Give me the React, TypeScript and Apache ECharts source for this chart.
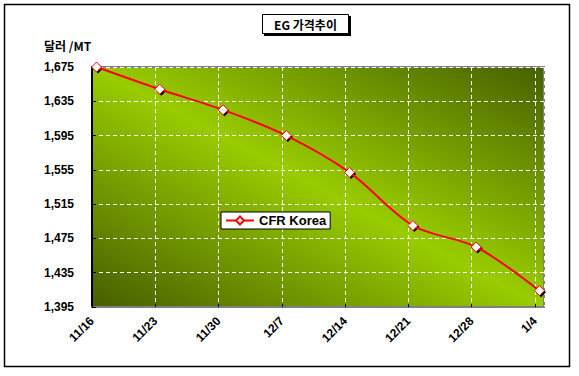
import React, { useEffect, useRef } from "react";
import * as echarts from "echarts";

const dateLabels = ["11/16", "11/23", "11/30", "12/7", "12/14", "12/21", "12/28", "1/4"];
const pointDays = [0.5, 7.5, 14.5, 21.5, 28.5, 35.5, 42.5, 49.5];
const prices = [1675, 1649, 1625, 1595, 1552, 1490, 1465, 1414];
const yMin = 1395;
const yMax = 1675;
const yStep = 40;
const seriesName = "CFR Korea";

export default function App() {
  const ref = useRef<HTMLDivElement>(null);
  useEffect(() => {
    if (!ref.current) return;
    const chart = echarts.init(ref.current, null, { renderer: "svg" });
    const data = pointDays.map((d, i) => [d, prices[i] - yMin]);
    const font = "Liberation Sans";
    chart.setOption({
      animation: false,
      backgroundColor: "#ffffff",
      grid: {
        left: 92,
        right: 35,
        top: 67,
        bottom: 69,
        show: true,
        borderColor: "#808080",
        borderWidth: 2,
        backgroundColor: new echarts.graphic.LinearGradient(0, 1, 1, 0, [
          { offset: 0, color: "#465e00" },
          { offset: 0.5, color: "#99cc00" },
          { offset: 1, color: "#466000" },
        ]),
      },
      legend: {
        data: [seriesName],
        left: 221,
        top: 212,
        backgroundColor: "#ffffff",
        borderColor: "#000000",
        borderWidth: 1,
        borderRadius: 0,
        padding: [2, 4, 2, 4],
        itemWidth: 28,
        itemHeight: 10,
        itemGap: 4,
        textStyle: { fontFamily: font, fontSize: 13, color: "#000", fontWeight: "bold" },
      },
      xAxis: {
        type: "value",
        min: 0,
        max: 50,
        interval: 7,
        axisLine: { show: true, lineStyle: { color: "#808080", width: 2 } },
        axisTick: { show: true, inside: true, length: 3, lineStyle: { color: "#000" } },
        splitLine: { show: true, lineStyle: { color: "#ffffff", type: [4, 3], width: 1 } },
        axisLabel: {
          rotate: 45,
          margin: 12,
          showMaxLabel: false,
          fontFamily: font,
          fontSize: 12,
          fontWeight: "bold",
          color: "#000",
          formatter: (v: number) => {
            const idx = Math.round(v / 7);
            return Math.abs(v - idx * 7) < 1e-6 && idx < dateLabels.length ? dateLabels[idx] : "";
          },
        },
      },
      yAxis: {
        type: "value",
        min: 0,
        max: yMax - yMin,
        interval: yStep,
        axisLine: { show: true, lineStyle: { color: "#000", width: 2 } },
        axisTick: { show: true, inside: true, length: 4, lineStyle: { color: "#000" } },
        splitLine: { show: true, lineStyle: { color: "#ffffff", type: [4, 3], width: 1 } },
        axisLabel: {
          margin: 18,
          fontFamily: font,
          fontSize: 12,
          fontWeight: "bold",
          color: "#000",
          formatter: (v: number) => (v + yMin).toLocaleString("en-US"),
        },
      },
      series: [
        {
          name: "shadow",
          type: "line",
          data,
          symbol: "diamond",
          symbolSize: 10,
          symbolOffset: [1.5, 1.5],
          showSymbol: true,
          lineStyle: { width: 0, opacity: 0 },
          itemStyle: { color: "#000", borderColor: "#000", borderWidth: 0 },
          z: 2,
          silent: true,
        },
        {
          name: seriesName,
          type: "line",
          data,
          smooth: 0.3,
          symbol: "diamond",
          symbolSize: 10,
          showSymbol: true,
          lineStyle: { color: "#ff0000", width: 2 },
          itemStyle: { color: "#ffffff", borderColor: "#ff0000", borderWidth: 1 },
          z: 3,
        },
      ],
      graphic: [
        {
          type: "rect",
          shape: { x: 4.5, y: 4.5, width: 565, height: 362 },
          style: { fill: "none", stroke: "#000", lineWidth: 1.5 },
          z: 100,
        },
        {
          type: "rect",
          shape: { x: 264, y: 16, width: 87, height: 20 },
          style: { fill: "#000" },
          z: 100,
        },
        {
          type: "rect",
          shape: { x: 262.5, y: 14.5, width: 86, height: 19 },
          style: { fill: "#fff", stroke: "#000", lineWidth: 1 },
          z: 101,
        },
        {
          type: "text",
          x: 305.5,
          y: 24,
          style: {
            text: "EG 가격추이",
            font: "bold 12px 'Noto Sans CJK KR', 'Liberation Sans'",
            fill: "#000",
            align: "center",
            verticalAlign: "middle",
          },
          z: 102,
        },
        {
          type: "text",
          x: 44,
          y: 45,
          style: {
            text: "달러 /MT",
            font: "bold 12px 'Noto Sans CJK KR', 'Liberation Sans'",
            fill: "#000",
            align: "left",
            verticalAlign: "middle",
          },
          z: 102,
        },
      ],
    });
    return () => chart.dispose();
  }, []);
  return <div ref={ref} style={{ width: 579, height: 376, position: "absolute", left: 0, top: 0 }} />;
}
